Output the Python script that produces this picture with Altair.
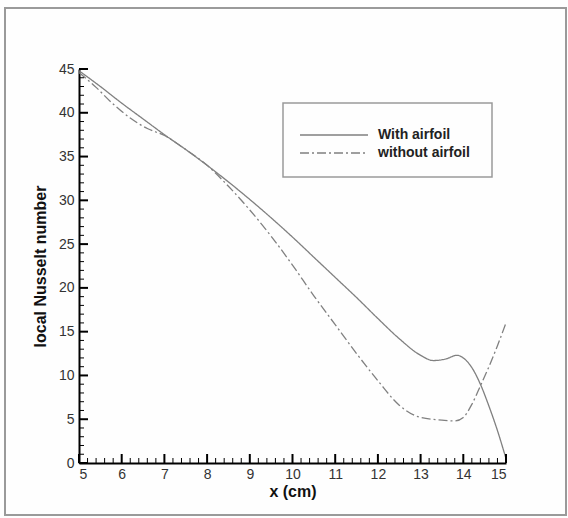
import altair as alt
import pandas as pd

# ---- data ----
x_with = [5.0, 5.5, 6.0, 6.5, 7.0, 7.5, 8.0, 8.5, 9.0, 9.5, 10.0, 10.5, 11.0, 11.5,
          12.0, 12.5, 13.0, 13.3, 13.6, 13.85, 14.0, 14.2, 14.4, 14.6, 14.8, 15.0]
y_with = [44.8, 43.0, 41.1, 39.3, 37.5, 35.8, 34.0, 32.1, 30.1, 28.0, 25.8, 23.5, 21.2, 18.9,
          16.5, 14.2, 12.3, 11.7, 11.9, 12.3, 12.0, 10.9, 9.0, 6.5, 3.7, 0.5]

x_without = [5.0, 5.4, 5.8, 6.2, 6.6, 7.0, 7.5, 8.0, 8.5, 9.0, 9.5, 10.0, 10.5, 11.0,
             11.5, 12.0, 12.5, 13.0, 13.5, 13.8, 14.0, 14.2, 14.4, 14.6, 14.8, 15.0]
y_without = [44.6, 42.9, 41.0, 39.4, 38.2, 37.4, 35.8, 34.0, 31.6, 28.9, 25.9, 22.6, 19.1, 15.8,
             12.5, 9.4, 6.6, 5.2, 4.9, 4.8, 5.2, 6.7, 8.8, 11.0, 13.4, 16.0]

series_names = ["With airfoil", "without airfoil"]

x_major = [5, 6, 7, 8, 9, 10, 11, 12, 13, 14, 15]
y_major = [0, 5, 10, 15, 20, 25, 30, 35, 40, 45]
x_minor = [round(5 + 0.2 * i, 1) for i in range(51) if i % 5 != 0]
y_minor = [i for i in range(46) if i % 5 != 0]

W, H = 427, 394
FONT = "Liberation Sans"
DASHES = [[1, 0], [9, 3, 2, 3]]
LINE_COLOR = "#808080"

df = pd.DataFrame({
    "x": x_with + x_without,
    "y": y_with + y_without,
    "s": [series_names[0]] * len(x_with) + [series_names[1]] * len(x_without),
    "o": list(range(len(x_with))) + list(range(len(x_without))),
})

xs = alt.Scale(domain=[5, 15], nice=False, zero=False)
ys = alt.Scale(domain=[0, 45], nice=False, zero=False)

lines = alt.Chart(df).mark_line(strokeWidth=1.3, color=LINE_COLOR, interpolate="monotone").encode(
    x=alt.X("x:Q", scale=xs, axis=alt.Axis(
        title="x (cm)", values=x_major, format="d", ticks=False, grid=False,
        domainColor="#000", domainWidth=2, labelFont=FONT, labelFontSize=14,
        labelColor="#333", labelPadding=4, titleFont=FONT, titleFontSize=16,
        titleFontWeight="bold", titleColor="#111", titlePadding=2)),
    y=alt.Y("y:Q", scale=ys, axis=alt.Axis(
        title="local Nusselt number", values=y_major, format="d", ticks=False, grid=False,
        domainColor="#000", domainWidth=2, labelFont=FONT, labelFontSize=14,
        labelColor="#333", labelPadding=5, titleFont=FONT, titleFontSize=16,
        titleFontWeight="bold", titleColor="#111", titlePadding=10)),
    strokeDash=alt.StrokeDash("s:N", scale=alt.Scale(domain=series_names, range=DASHES),
                              legend=None),
    detail="s:N",
    order="o:Q",
)

xmaj = alt.Chart(pd.DataFrame({"v": x_major})).mark_rule(color="#000", strokeWidth=2).encode(
    x=alt.X("v:Q", scale=xs, axis=None), y=alt.value(H), y2=alt.value(H - 9))
xmin = alt.Chart(pd.DataFrame({"v": x_minor})).mark_rule(color="#000", strokeWidth=1).encode(
    x=alt.X("v:Q", scale=xs, axis=None), y=alt.value(H), y2=alt.value(H - 5))
ymaj = alt.Chart(pd.DataFrame({"v": y_major})).mark_rule(color="#000", strokeWidth=2).encode(
    y=alt.Y("v:Q", scale=ys, axis=None), x=alt.value(0), x2=alt.value(9))
ymin = alt.Chart(pd.DataFrame({"v": y_minor})).mark_rule(color="#000", strokeWidth=1).encode(
    y=alt.Y("v:Q", scale=ys, axis=None), x=alt.value(0), x2=alt.value(5))

# outer frame (decoration)
frame = alt.Chart(pd.DataFrame({"a": [0]})).mark_rect(
    filled=False, stroke="#9a9a9a", strokeWidth=2).encode(
    x=alt.value(5 - 79), x2=alt.value(566 - 79), y=alt.value(8 - 69), y2=alt.value(515 - 69))

# legend (decoration)
LX, LY = 283 - 79, 103 - 69
rows = [0, 1]
leg_box = alt.Chart(pd.DataFrame({"a": [0]})).mark_rect(
    filled=False, stroke="#9a9a9a", strokeWidth=1.5).encode(
    x=alt.value(LX), x2=alt.value(LX + 209), y=alt.value(LY), y2=alt.value(LY + 74))
leg_df = pd.DataFrame({"s": series_names, "row": rows})
row_scale = alt.Scale(domain=[0, 1], range=[LY + 32, LY + 50])
leg_lines = alt.Chart(leg_df).mark_rule(strokeWidth=1.3, color=LINE_COLOR).encode(
    x=alt.value(LX + 17), x2=alt.value(LX + 85),
    y=alt.Y("row:Q", scale=row_scale, axis=None),
    strokeDash=alt.StrokeDash("s:N", scale=alt.Scale(domain=series_names, range=DASHES),
                              legend=None),
)
leg_text = alt.Chart(leg_df).mark_text(
    align="left", baseline="middle", font=FONT, fontSize=14, fontWeight="bold",
    color="#222").encode(
    x=alt.value(LX + 95),
    y=alt.Y("row:Q", scale=row_scale, axis=None),
    text="s:N",
)

chart = alt.layer(frame, lines, xmin, xmaj, ymin, ymaj, leg_box, leg_lines, leg_text).resolve_scale(
    x="independent", y="independent", strokeDash="shared"
).properties(
    width=W, height=H,
    autosize=alt.AutoSizeParams(type="none"),
    padding={"left": 79, "top": 69, "right": 62, "bottom": 55},
    background="#fefefe",
).configure_view(stroke=None)

chart.save("out.html", embed_options={"renderer": "svg", "actions": False})
